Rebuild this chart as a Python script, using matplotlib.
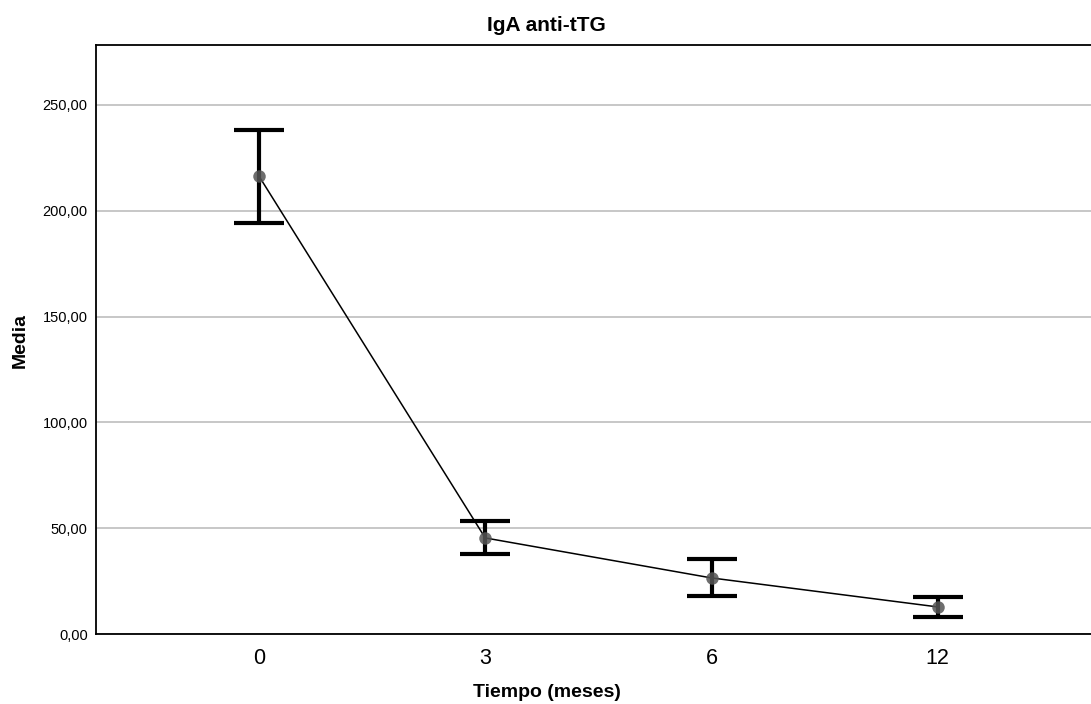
import numpy as np
import matplotlib
matplotlib.use("Agg")
import matplotlib.pyplot as plt

plt.rcParams['font.family'] = ['Liberation Sans', 'DejaVu Sans']

# datos
tiempo = ["0", "3", "6", "12"]
media = [216.4, 45.4, 26.5, 12.8]
ic_sup = [238.2, 53.4, 35.4, 17.5]
ic_inf = [194.2, 37.8, 18.0, 8.0]
yticks = [0, 50, 100, 150, 200, 250]

fig = plt.figure(figsize=(10.91, 7.04), dpi=100)
ax = fig.add_axes([0.088, 0.0994, 0.912, 0.8366])

x = np.arange(len(tiempo))
media = np.array(media)
err = [media - np.array(ic_inf), np.array(ic_sup) - media]

ax.errorbar(x, media, yerr=err, fmt='none', ecolor='black', elinewidth=3,
            capsize=18, capthick=3, zorder=3)
ax.plot(x, media, color='black', linewidth=1.1, zorder=4)
ax.plot(x, media, 'o', color='#555555', alpha=0.85, markersize=9,
        markeredgewidth=0, zorder=5)

ax.set_xlim(-0.72, 3.677)
ax.set_ylim(0, 278.3)
ax.set_xticks(x)
ax.set_xticklabels(tiempo, fontsize=15.5)
ax.set_yticks(yticks)
ax.set_yticklabels([f"{v:.2f}".replace('.', ',') for v in yticks], fontsize=10.5)
ax.tick_params(axis='both', length=0, pad=6)
ax.tick_params(axis='x', pad=10)

ax.yaxis.grid(True, color='#bdbdbd', linewidth=1.2)
ax.set_axisbelow(True)
ax.spines['right'].set_visible(False)
for s in ['left', 'top', 'bottom']:
    ax.spines[s].set_linewidth(1.3)

fig.text(0.501, 0.964, "IgA anti-tTG", ha='center', va='center',
         fontsize=15, fontweight='bold')
fig.text(0.501, 0.016, "Tiempo (meses)", ha='center', va='center',
         fontsize=14, fontweight='bold')
fig.text(0.019, 0.517, "Media", ha='center', va='center', rotation=90,
         fontsize=14, fontweight='bold')

fig.savefig("out.png", dpi=100)
